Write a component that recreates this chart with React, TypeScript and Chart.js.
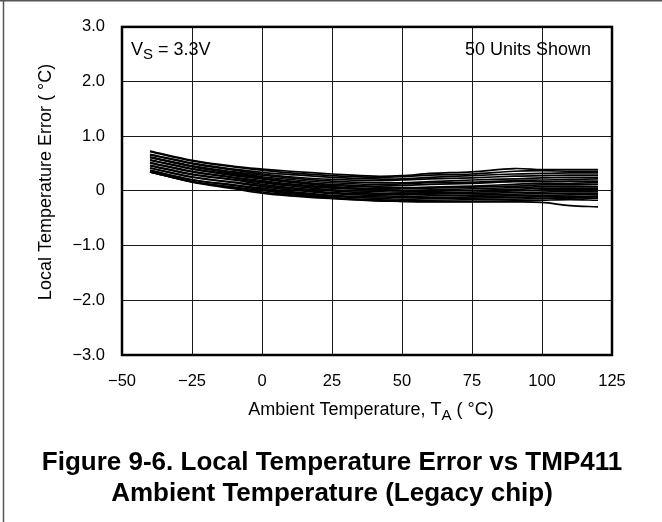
import React, { useEffect, useRef } from "react";
import { Chart, registerables } from "chart.js";

Chart.register(...registerables);

// Ambient temperature sample points (°C)
const temps = [-40, -25, -10, 0, 10, 25, 40, 50, 60, 75, 90, 100, 110, 120];

// Local temperature error (°C) for a representative set of units
const unit01 = [0.73, 0.56, 0.45, 0.40, 0.36, 0.31, 0.27, 0.28, 0.32, 0.35, 0.41, 0.39, 0.39, 0.39];
const unit02 = [0.72, 0.55, 0.44, 0.38, 0.33, 0.28, 0.25, 0.26, 0.29, 0.31, 0.36, 0.37, 0.36, 0.36];
const unit03 = [0.67, 0.51, 0.40, 0.34, 0.30, 0.25, 0.22, 0.22, 0.25, 0.28, 0.31, 0.32, 0.33, 0.33];
const unit04 = [0.66, 0.50, 0.38, 0.31, 0.26, 0.21, 0.19, 0.20, 0.22, 0.24, 0.27, 0.28, 0.29, 0.29];
const unit05 = [0.62, 0.46, 0.35, 0.29, 0.24, 0.18, 0.15, 0.15, 0.17, 0.20, 0.22, 0.24, 0.25, 0.25];
const unit06 = [0.61, 0.45, 0.33, 0.26, 0.21, 0.15, 0.12, 0.13, 0.15, 0.16, 0.19, 0.20, 0.21, 0.22];
const unit07 = [0.57, 0.41, 0.30, 0.24, 0.18, 0.12, 0.09, 0.10, 0.12, 0.14, 0.17, 0.17, 0.18, 0.18];
const unit08 = [0.56, 0.40, 0.28, 0.22, 0.16, 0.10, 0.07, 0.06, 0.07, 0.09, 0.12, 0.14, 0.14, 0.15];
const unit09 = [0.52, 0.36, 0.25, 0.19, 0.13, 0.07, 0.04, 0.04, 0.05, 0.07, 0.09, 0.11, 0.11, 0.12];
const unit10 = [0.51, 0.35, 0.24, 0.17, 0.11, 0.05, 0.02, 0.01, 0.02, 0.04, 0.06, 0.08, 0.08, 0.08];
const unit11 = [0.47, 0.31, 0.21, 0.15, 0.09, 0.02, -0.01, -0.02, -0.01, 0.01, 0.03, 0.05, 0.05, 0.05];
const unit12 = [0.46, 0.30, 0.20, 0.12, 0.06, 0.00, -0.04, -0.05, -0.04, -0.02, 0.00, 0.02, 0.02, 0.02];
const unit13 = [0.42, 0.26, 0.16, 0.10, 0.04, -0.03, -0.06, -0.07, -0.06, -0.05, -0.03, -0.02, -0.01, -0.01];
const unit14 = [0.42, 0.25, 0.15, 0.08, 0.02, -0.05, -0.08, -0.10, -0.09, -0.08, -0.06, -0.05, -0.04, -0.04];
const unit15 = [0.38, 0.21, 0.11, 0.05, -0.01, -0.08, -0.11, -0.12, -0.12, -0.11, -0.09, -0.08, -0.07, -0.07];
const unit16 = [0.37, 0.20, 0.10, 0.03, -0.03, -0.10, -0.13, -0.15, -0.14, -0.13, -0.12, -0.11, -0.10, -0.10];
const unit17 = [0.35, 0.17, 0.07, 0.01, -0.05, -0.12, -0.16, -0.17, -0.17, -0.16, -0.15, -0.14, -0.13, -0.13];
const unit18 = [0.35, 0.17, 0.06, -0.02, -0.07, -0.13, -0.17, -0.19, -0.19, -0.19, -0.18, -0.17, -0.16, -0.17];
const unit19 = [0.35, 0.16, 0.04, -0.04, -0.09, -0.14, -0.18, -0.19, -0.20, -0.20, -0.20, -0.21, -0.27, -0.29];
const unit20 = [0.62, 0.45, 0.32, 0.24, 0.17, 0.08, 0.03, 0.00, -0.03, -0.05, -0.08, -0.10, -0.12, -0.13];

const units = [
  unit01, unit02, unit03, unit04, unit05, unit06, unit07, unit08, unit09, unit10,
  unit11, unit12, unit13, unit14, unit15, unit16, unit17, unit18, unit19, unit20,
];

// Axis ranges / tick steps
const xMin = -50;
const xMax = 125;
const xStep = 25;
const yMin = -3;
const yMax = 3;
const yStep = 1;

const FONT = "'Liberation Sans', Arial, Helvetica, sans-serif";

const fmtX = (v: number) => (v < 0 ? "\u2212" + Math.abs(v) : String(v));
const fmtY = (v: number) =>
  v === 0 ? "0" : (v < 0 ? "\u2212" : "") + Math.abs(v).toFixed(1);

const decorPlugin = {
  id: "decor",
  beforeDraw(chart: any) {
    const ctx = chart.ctx;
    ctx.save();
    ctx.fillStyle = "#ffffff";
    ctx.fillRect(0, 0, chart.width, chart.height);
    ctx.strokeStyle = "#555";
    ctx.lineWidth = 1.5;
    ctx.beginPath();
    ctx.moveTo(3.5, 0);
    ctx.lineTo(3.5, chart.height);
    ctx.moveTo(0, 0.75);
    ctx.lineTo(chart.width, 0.75);
    ctx.stroke();
    ctx.restore();
  },
  afterDraw(chart: any) {
    const ctx = chart.ctx;
    const a = chart.chartArea;
    ctx.save();
    // plot frame
    ctx.strokeStyle = "#000";
    ctx.lineWidth = 2.5;
    ctx.strokeRect(a.left, a.top, a.right - a.left, a.bottom - a.top);

    ctx.fillStyle = "#000";
    ctx.textBaseline = "middle";

    // x axis title with subscript
    const main = "18px " + FONT;
    const sub = "15px " + FONT;
    const p1 = "Ambient Temperature, T";
    const p2 = "A";
    const p3 = " ( \u00B0C)";
    ctx.font = main;
    const w1 = ctx.measureText(p1).width;
    const w3 = ctx.measureText(p3).width;
    ctx.font = sub;
    const w2 = ctx.measureText(p2).width;
    const total = w1 + w2 + w3;
    const cx = (a.left + a.right) / 2 + 4;
    const ty = a.bottom + 55;
    let x = cx - total / 2;
    ctx.textAlign = "left";
    ctx.font = main;
    ctx.fillText(p1, x, ty);
    x += w1;
    ctx.font = sub;
    ctx.fillText(p2, x, ty + 6);
    x += w2;
    ctx.font = main;
    ctx.fillText(p3, x, ty);

    // y axis title
    ctx.save();
    ctx.translate(46, 182);
    ctx.rotate(-Math.PI / 2);
    ctx.textAlign = "center";
    ctx.font = main;
    ctx.fillText("Local Temperature Error ( \u00B0C)", 0, 0);
    ctx.restore();

    // V_S annotation
    const vy = a.top + 23;
    let vx = a.left + 9;
    ctx.textAlign = "left";
    ctx.font = main;
    ctx.fillText("V", vx, vy);
    vx += ctx.measureText("V").width;
    ctx.font = sub;
    ctx.fillText("S", vx, vy + 5);
    vx += ctx.measureText("S").width;
    ctx.font = main;
    ctx.fillText(" = 3.3V", vx, vy);

    // units annotation
    ctx.textAlign = "right";
    ctx.fillText("50 Units Shown", a.right - 21, vy);

    // caption
    ctx.textAlign = "center";
    ctx.font = "bold 26px " + FONT;
    ctx.fillText("Figure 9-6. Local Temperature Error vs TMP411", chart.width / 2 + 1, 463);
    ctx.fillText("Ambient Temperature (Legacy chip)", chart.width / 2 + 1, 494);
    ctx.restore();
  },
};

export default function App() {
  const canvasRef = useRef<HTMLCanvasElement | null>(null);

  useEffect(() => {
    const canvas = canvasRef.current;
    if (!canvas) return;
    const chart = new Chart(canvas, {
      type: "line",
      data: {
        datasets: units.map((u, i) => ({
          label: "Unit " + (i + 1),
          data: temps.map((t, j) => ({ x: t, y: u[j] })),
          borderColor: "#000",
          borderWidth: 1.7,
          pointRadius: 0,
          tension: 0.35,
          fill: false,
        })),
      },
      options: {
        responsive: false,
        animation: false,
        devicePixelRatio: 1,
        layout: { padding: { left: 0, top: 24, right: 50, bottom: 0 } },
        plugins: {
          legend: { display: false },
          tooltip: { enabled: false },
          title: { display: false },
        },
        scales: {
          x: {
            type: "linear",
            min: xMin,
            max: xMax,
            afterFit: (s: any) => {
              s.height = 167;
            },
            ticks: {
              stepSize: xStep,
              padding: 17,
              color: "#000",
              font: { family: FONT, size: 16.5 },
              callback: (v: any) => fmtX(Number(v)),
              maxRotation: 0,
              autoSkip: false,
            },
            grid: { color: "#1a1a1a", lineWidth: 1, drawTicks: false },
            border: { display: false },
          },
          y: {
            type: "linear",
            min: yMin,
            max: yMax,
            afterFit: (s: any) => {
              s.width = 122;
            },
            ticks: {
              stepSize: yStep,
              padding: 17,
              color: "#000",
              font: { family: FONT, size: 16.5 },
              callback: (v: any) => fmtY(Number(v)),
            },
            grid: { color: "#1a1a1a", lineWidth: 1, drawTicks: false },
            border: { display: false },
          },
        },
      },
      plugins: [decorPlugin],
    });
    return () => chart.destroy();
  }, []);

  return (
    <div style={{ position: "fixed", left: 0, top: 0, width: 662, height: 522, background: "#fff" }}>
      <canvas ref={canvasRef} width={662} height={522} style={{ display: "block" }} />
    </div>
  );
}
